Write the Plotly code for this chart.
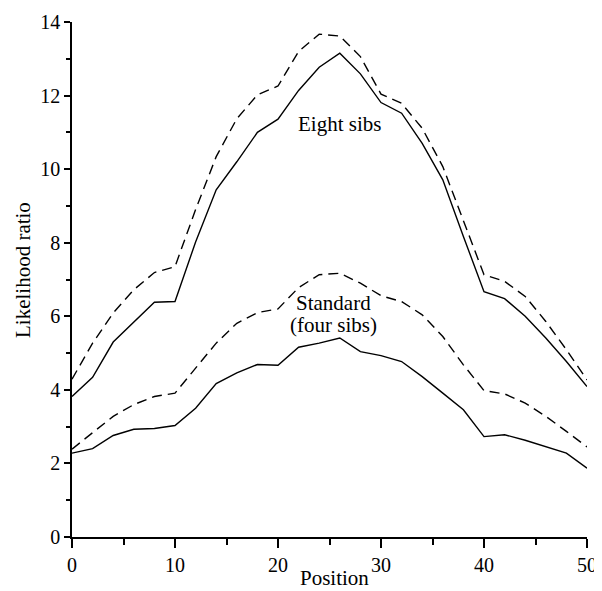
import plotly.graph_objects as go

positions = list(range(0, 51, 2))
eight_solid = [3.82, 4.34, 5.30, 5.83, 6.38, 6.40, 8.02, 9.44, 10.2, 11.0, 11.36, 12.14, 12.77,
               13.15, 12.59, 11.81, 11.52, 10.70, 9.71, 8.17, 6.67, 6.48, 6.00, 5.41, 4.77, 4.09]
eight_dashed = [4.29, 5.27, 6.09, 6.72, 7.19, 7.35, 8.9, 10.34, 11.37, 12.02, 12.26, 13.2, 13.67,
                13.62, 13.06, 12.04, 11.79, 11.11, 10.07, 8.62, 7.13, 6.95, 6.54, 5.86, 5.09, 4.27]
std_dashed = [2.39, 2.83, 3.28, 3.60, 3.82, 3.91, 4.59, 5.27, 5.81, 6.10, 6.20, 6.78, 7.13,
              7.17, 6.90, 6.56, 6.40, 6.04, 5.45, 4.68, 3.98, 3.89, 3.64, 3.28, 2.87, 2.45]
std_solid = [2.28, 2.40, 2.76, 2.93, 2.95, 3.03, 3.50, 4.17, 4.46, 4.69, 4.67, 5.16, 5.27,
             5.41, 5.04, 4.93, 4.77, 4.36, 3.91, 3.46, 2.73, 2.78, 2.63, 2.46, 2.28, 1.87]

FONT = "Liberation Serif"
fig = go.Figure()
for ys, dash in [(eight_solid, "solid"), (eight_dashed, "10px,6px"),
                 (std_solid, "solid"), (std_dashed, "10px,6px")]:
    fig.add_trace(go.Scatter(x=positions, y=ys, mode="lines",
                             line=dict(color="black", width=1.4, dash=dash),
                             showlegend=False))

fig.update_layout(
    width=594, height=583,
    margin=dict(l=64, r=15, t=14, b=54),
    paper_bgcolor="white", plot_bgcolor="white",
    font=dict(family=FONT, size=20, color="black"),
    xaxis=dict(range=[0, 50], dtick=10, showline=True, linecolor="black", linewidth=1.5,
               ticks="outside", ticklen=9, tickwidth=1.5, tickcolor="black",
               minor=dict(dtick=5, ticks="outside", ticklen=6, tickwidth=1.5, tickcolor="black"),
               showgrid=False, zeroline=False, tickfont=dict(size=20), automargin=False),
    yaxis=dict(range=[0, 14], dtick=2, showline=True, linecolor="black", linewidth=1.5,
               ticks="outside", ticklen=6, tickwidth=1.5, tickcolor="black",
               minor=dict(dtick=1, ticks="outside", ticklen=4, tickwidth=1.5, tickcolor="black"),
               showgrid=False, zeroline=False, tickfont=dict(size=20), automargin=False),
    annotations=[
        dict(text="Eight sibs", x=26.0, y=11.23, xref="x", yref="y", showarrow=False,
             font=dict(size=21, family=FONT)),
        dict(text="Standard", x=25.4, y=6.37, xref="x", yref="y", showarrow=False,
             font=dict(size=21, family=FONT)),
        dict(text="(four sibs)", x=25.4, y=5.75, xref="x", yref="y", showarrow=False,
             font=dict(size=21, family=FONT)),
        dict(text="Position", x=25.5, y=-0.079, xref="x", yref="paper", showarrow=False,
             yanchor="middle", font=dict(size=21, family=FONT)),
        dict(text="Likelihood ratio", x=-0.0965, y=0.519, xref="paper", yref="paper",
             showarrow=False, textangle=-90, xanchor="center", yanchor="middle",
             font=dict(size=21, family=FONT)),
    ],
)
fig.write_html("out.html")
